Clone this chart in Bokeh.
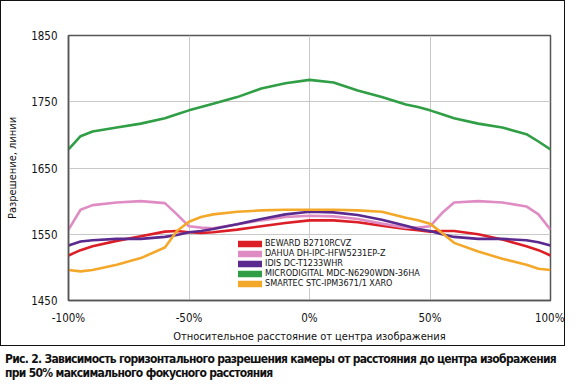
from bokeh.plotting import figure
from bokeh.models import Legend, LegendItem, Div, FixedTicker, CustomJSTickFormatter
from bokeh.layouts import column
from bokeh.embed import file_html
from bokeh.resources import INLINE

FONT = "'DejaVu Sans Condensed', Roboto"

x_pct = [-100, -95, -90, -80, -70, -60, -55, -50, -45, -40, -30, -20, -10, 0,
         10, 20, 30, 40, 45, 50, 55, 60, 70, 80, 90, 95, 100]

beward = [1518, 1526, 1532, 1540, 1547, 1554, 1555, 1553, 1552, 1553, 1557, 1562, 1567, 1571,
          1571, 1568, 1563, 1558, 1556, 1554, 1555, 1555, 1550, 1542, 1532, 1526, 1518]
dahua = [1557, 1587, 1594, 1598, 1600, 1597, 1580, 1562, 1560, 1559, 1565, 1571, 1576, 1578,
         1577, 1573, 1566, 1560, 1560, 1562, 1582, 1598, 1600, 1598, 1592, 1580, 1557]
idis = [1533, 1539, 1541, 1543, 1543, 1546, 1549, 1553, 1555, 1558, 1565, 1573, 1580, 1584,
        1583, 1579, 1572, 1563, 1558, 1555, 1550, 1546, 1543, 1543, 1541, 1538, 1533]
microdigital = [1678, 1698, 1705, 1711, 1717, 1725, 1731, 1737, 1742, 1747, 1757, 1770, 1778, 1783,
                1779, 1767, 1757, 1746, 1742, 1737, 1731, 1725, 1717, 1711, 1701, 1690, 1678]
smartec = [1496, 1494, 1496, 1504, 1514, 1530, 1555, 1569, 1576, 1580, 1584, 1586, 1587, 1587,
           1587, 1586, 1584, 1575, 1571, 1566, 1552, 1537, 1524, 1513, 1504, 1498, 1496]

series_names = ["BEWARD B2710RCVZ", "DAHUA DH-IPC-HFW5231EP-Z", "IDIS DC-T1233WHR",
                "MICRODIGITAL MDC-N6290WDN-36HA", "SMARTEC STC-IPM3671/1 XARO"]
series_values = [beward, dahua, idis, microdigital, smartec]
colors = ["#dc1f26", "#e08cc4", "#5b2a8e", "#2f9e44", "#f4a829"]

y_ticks = [1450, 1550, 1650, 1750, 1850]
x_ticks = [-100, -50, 0, 50, 100]

p = figure(width=563, height=344, output_backend="svg", toolbar_location=None,
           x_range=(-100, 100), y_range=(1450, 1850),
           min_border_left=67, min_border_top=34, min_border_right=14, min_border_bottom=40)

p.outline_line_color = "#555555"
p.outline_line_width = 1.5
p.background_fill_color = "white"
p.border_fill_color = "white"

for ax in (p.xaxis[0], p.yaxis[0]):
    ax.axis_line_color = "#555555"
    ax.axis_line_width = 1.5
    ax.major_tick_line_color = None
    ax.minor_tick_line_color = None
    ax.major_tick_out = 0
    ax.major_tick_in = 0
    ax.major_label_text_font = FONT
    ax.major_label_text_font_size = "11.5px"
    ax.major_label_text_color = "#111111"
    ax.axis_label_text_font = FONT
    ax.axis_label_text_font_size = "11px"
    ax.axis_label_text_font_style = "normal"
    ax.axis_label_text_color = "#111111"

p.yaxis.ticker = FixedTicker(ticks=y_ticks)
p.xaxis.ticker = FixedTicker(ticks=x_ticks)
p.xaxis.formatter = CustomJSTickFormatter(code="return tick + '%';")
p.yaxis.axis_label = "Разрешение, линии"
p.xaxis.axis_label = "Относительное расстояние от центра изображения"
p.yaxis.major_label_standoff = 11
p.xaxis.major_label_standoff = 10
p.yaxis.axis_label_standoff = 9
p.xaxis.axis_label_standoff = 2

p.grid.grid_line_color = "#c8c8c8"
p.grid.grid_line_width = 1
p.xgrid.ticker = FixedTicker(ticks=x_ticks)
p.ygrid.ticker = FixedTicker(ticks=y_ticks)

items = []
for name, vals, c in zip(series_names, series_values, colors):
    p.line(x_pct, vals, line_color=c, line_width=2.6)
    # off-frame proxy line used only for the thick legend swatch
    swatch = p.line([-1000, -999], [0, 0], line_color=c, line_width=6.5, line_cap="round")
    items.append(LegendItem(label=name, renderers=[swatch]))

legend = Legend(items=items, location=(170, 12), orientation="vertical",
                background_fill_color="white", background_fill_alpha=1,
                border_line_color=None, padding=2, spacing=0, margin=0,
                glyph_width=24, glyph_height=9, label_height=9, label_standoff=3,
                label_text_font=FONT, label_text_font_size="9px",
                label_text_line_height=1.0,
                label_text_color="#111111")
p.add_layout(legend, "center")

chart = column(p, styles={"border": "1.5px solid #111"})

caption = Div(text="Рис. 2. Зависимость горизонтального разрешения камеры от расстояния до центра изображения<br>при 50% максимального фокусного расстояния",
              width=563, height=28,
              styles={"font-family": FONT, "font-weight": "bold", "font-size": "12px",
                      "letter-spacing": "-0.7px", "line-height": "14px", "color": "#111",
                      "white-space": "nowrap", "margin-top": "4px"})

layout = column(chart, caption, spacing=2)

with open("out.html", "w") as f:
    f.write(file_html(layout, INLINE))
